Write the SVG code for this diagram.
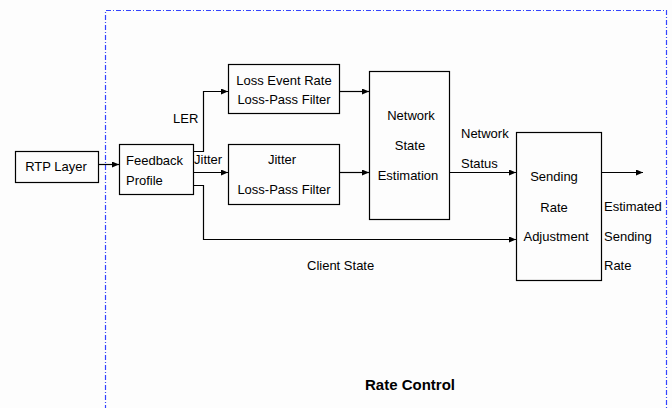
<svg xmlns="http://www.w3.org/2000/svg" width="672" height="408" viewBox="0 0 672 408">
<style>
.b{fill:none;stroke:#000;stroke-width:1.2}
.c{fill:none;stroke:#000;stroke-width:1.2}
text{font-family:"Liberation Sans",Arial,sans-serif;font-size:13px;fill:#000}
.m{text-anchor:middle}
.t{font-weight:bold;font-size:15px}
</style>
<defs>
<marker id="ar" markerWidth="7" markerHeight="6" refX="7" refY="3" orient="auto" markerUnits="userSpaceOnUse">
<path d="M0,0 L7,3 L0,6 Z" fill="#000"/>
</marker>
</defs>
<rect width="672" height="408" fill="#fdfdfd"/>
<path d="M105.5,420 V10.5 H666.5 V420" fill="none" stroke="#3344ff" stroke-width="1.2" stroke-dasharray="5 2 1 2"/>
<g id="rtp"><rect class="b" x="15.5" y="151.5" width="83" height="31"/><text class="m" x="56" y="171">RTP Layer</text></g>
<g id="feedback"><rect class="b" x="119.5" y="144.5" width="74" height="50"/><text x="126" y="165">Feedback</text><text x="126" y="185">Profile</text></g>
<g id="ler"><rect class="b" x="228.5" y="64.5" width="111" height="49"/><text class="m" x="284" y="85">Loss Event Rate</text><text class="m" x="284" y="104">Loss-Pass Filter</text></g>
<g id="jitter"><rect class="b" x="228.5" y="144.5" width="111" height="60"/><text class="m" x="282" y="164">Jitter</text><text class="m" x="284" y="194">Loss-Pass Filter</text></g>
<g id="nse"><rect class="b" x="369.5" y="71.5" width="80" height="148"/><text class="m" x="411" y="120">Network</text><text class="m" x="410" y="150">State</text><text class="m" x="408" y="180">Estimation</text></g>
<g id="sra"><rect class="b" x="516.5" y="132.5" width="85" height="148"/><text class="m" x="554" y="181">Sending</text><text class="m" x="554" y="212">Rate</text><text class="m" x="556" y="241">Adjustment</text></g>
<g id="connectors">
<path class="c" d="M98.5,164.5 H119" marker-end="url(#ar)"/>
<path class="c" d="M193.5,151.5 H203.5 V91.5 H228" marker-end="url(#ar)"/>
<path class="c" d="M193.5,172.5 H228" marker-end="url(#ar)"/>
<path class="c" d="M193.5,185.5 H203.5 V239.5 H516" marker-end="url(#ar)"/>
<path class="c" d="M339.5,91.5 H369" marker-end="url(#ar)"/>
<path class="c" d="M339.5,172.5 H369" marker-end="url(#ar)"/>
<path class="c" d="M449.5,172.5 H516" marker-end="url(#ar)"/>
<path class="c" d="M601.5,172.5 H643" marker-end="url(#ar)"/>
</g>
<text x="173" y="123">LER</text>
<text x="194" y="164">Jitter</text>
<text x="307" y="270">Client State</text>
<text x="461" y="138">Network</text>
<text x="461" y="168">Status</text>
<text x="604" y="211">Estimated</text>
<text x="604" y="241">Sending</text>
<text x="604" y="270">Rate</text>
<text class="t" x="365" y="390">Rate Control</text>
</svg>
